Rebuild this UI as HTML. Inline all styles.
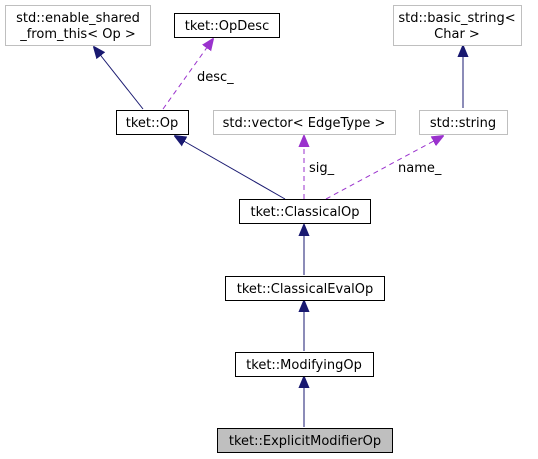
<!DOCTYPE html>
<html><head><meta charset="utf-8"><style>
html,body{margin:0;padding:0;background:#fff;}
svg{display:block;}
text{font-family:"DejaVu Sans","Liberation Sans",sans-serif;font-size:13px;fill:#000;}
</style></head><body>
<svg width="538" height="459" viewBox="0 0 538 459" xmlns="http://www.w3.org/2000/svg">
<defs>
<marker id="an" markerWidth="12" markerHeight="12" refX="11" refY="6" orient="auto" markerUnits="userSpaceOnUse"><path d="M0,1 L12,6 L0,11 z" fill="#191970" stroke="#191970"/></marker>
<marker id="ap" markerWidth="12" markerHeight="12" refX="11" refY="6" orient="auto" markerUnits="userSpaceOnUse"><path d="M0,1 L12,6 L0,11 z" fill="#9a32cd" stroke="#9a32cd"/></marker>
</defs>
<line x1="143" y1="109" x2="94" y2="47" stroke="#191970" marker-end="url(#an)"/>
<line x1="163" y1="109" x2="213" y2="39" stroke="#9a32cd" stroke-dasharray="5,4" marker-end="url(#ap)"/>
<text x="197" y="81">desc_</text>
<line x1="285" y1="199" x2="175" y2="136" stroke="#191970" marker-end="url(#an)"/>
<line x1="304" y1="199" x2="304" y2="136" stroke="#9a32cd" stroke-dasharray="5,4" marker-end="url(#ap)"/>
<text x="309" y="172">sig_</text>
<line x1="326" y1="199" x2="443" y2="136" stroke="#9a32cd" stroke-dasharray="5,4" marker-end="url(#ap)"/>
<text x="398" y="172">name_</text>
<line x1="463" y1="108" x2="463" y2="46" stroke="#191970" marker-end="url(#an)"/>
<line x1="304" y1="275" x2="304" y2="225" stroke="#191970" marker-end="url(#an)"/>
<line x1="304" y1="351" x2="304" y2="301" stroke="#191970" marker-end="url(#an)"/>
<line x1="304" y1="427" x2="304" y2="377" stroke="#191970" marker-end="url(#an)"/>
<rect x="5.5" y="5.5" width="145" height="40" fill="#fff" stroke="#bfbfbf"/>
<text x="78" y="22" text-anchor="middle">std::enable_shared</text>
<text x="78" y="38" text-anchor="middle">_from_this&lt; Op &gt;</text>
<rect x="174.5" y="13.5" width="105" height="24" fill="#fff" stroke="#000"/>
<text x="227" y="30" text-anchor="middle">tket::OpDesc</text>
<rect x="393.5" y="5.5" width="128" height="40" fill="#fff" stroke="#bfbfbf"/>
<text x="457" y="22" text-anchor="middle">std::basic_string&lt;</text>
<text x="457" y="38" text-anchor="middle">Char &gt;</text>
<rect x="116.5" y="110.5" width="72" height="24" fill="#fff" stroke="#000"/>
<text x="152" y="127" text-anchor="middle">tket::Op</text>
<rect x="213.5" y="110.5" width="182" height="24" fill="#fff" stroke="#bfbfbf"/>
<text x="304" y="127" text-anchor="middle">std::vector&lt; EdgeType &gt;</text>
<rect x="419.5" y="110.5" width="88" height="24" fill="#fff" stroke="#bfbfbf"/>
<text x="463" y="127" text-anchor="middle">std::string</text>
<rect x="239.5" y="199.5" width="131" height="24" fill="#fff" stroke="#000"/>
<text x="305" y="216" text-anchor="middle">tket::ClassicalOp</text>
<rect x="225.5" y="276.5" width="159" height="24" fill="#fff" stroke="#000"/>
<text x="305" y="293" text-anchor="middle">tket::ClassicalEvalOp</text>
<rect x="235.5" y="352.5" width="138" height="24" fill="#fff" stroke="#000"/>
<text x="304" y="369" text-anchor="middle">tket::ModifyingOp</text>
<rect x="217.5" y="428.5" width="175" height="24" fill="#bfbfbf" stroke="#000"/>
<text x="305" y="445" text-anchor="middle">tket::ExplicitModifierOp</text>
</svg>
</body></html>
